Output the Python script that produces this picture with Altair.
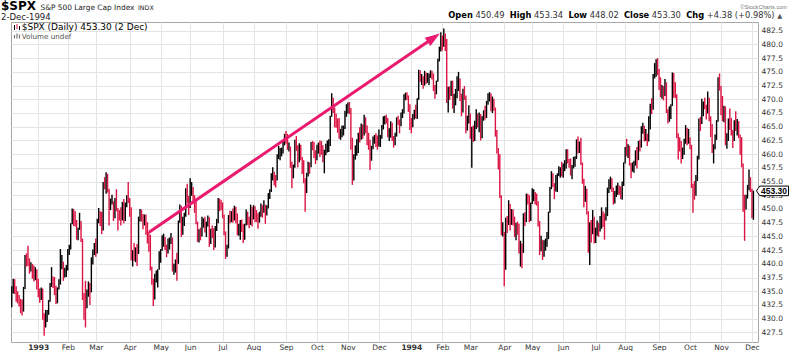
import math
import altair as alt
import pandas as pd

# ---------------- data ----------------
MONTHS = ["1992-12", "1993-01", "1993-02", "1993-03", "1993-04", "1993-05", "1993-06",
          "1993-07", "1993-08", "1993-09", "1993-10", "1993-11", "1993-12",
          "1994-01", "1994-02", "1994-03", "1994-04", "1994-05", "1994-06",
          "1994-07", "1994-08", "1994-09", "1994-10", "1994-11", "1994-12"]

CLOSE = [
    "435.3 437.0 435.6 434.6 433.7 432.8 432.6 431.5 435.4 441.3 440.7 440.3 439.0 439.8 438.0 437.5 438.8 435.7",
    "435.4 434.3 434.5 430.7 429.1 430.9 431.0 433.0 435.9 437.2 436.8 435.1 433.4 435.5 436.1 440.0 440.0 438.1 438.7 438.8",
    "442.5 442.6 447.2 449.6 448.9 447.9 445.3 446.2 447.7 444.6 433.9 433.3 431.9 434.2 435.2 434.8 440.9 442.3 443.4",
    "442.0 447.9 449.3 447.3 446.1 454.7 454.4 456.3 453.7 449.8 451.4 451.4 448.3 451.9 450.2 448.9 448.8 448.1 450.9 447.8 450.8 452.0 451.7",
    "450.3 441.4 442.3 441.2 442.7 441.8 448.4 449.2 448.7 448.4 448.9 447.5 445.1 443.6 439.5 437.0 433.5 438.0 438.0 438.9 440.2",
    "442.5 444.1 444.5 443.3 442.3 442.8 444.4 444.8 439.2 439.6 440.4 440.3 447.6 450.6 445.8 448.0 448.9 453.4 452.4 450.2",
    "453.8 453.9 452.5 450.1 447.7 444.7 445.8 445.4 447.3 447.7 446.3 447.4 448.5 443.7 446.2 445.9 443.2 446.6 447.6 451.9 450.7 450.5",
    "449.0 445.8 441.4 442.8 448.6 448.1 449.0 448.1 450.1 449.2 445.8 446.0 447.3 447.2 444.5 447.1 449.1 448.2 447.2 450.2 448.1",
    "450.2 449.3 448.5 448.1 448.7 450.7 449.5 450.5 449.0 450.1 452.4 453.1 456.0 456.4 456.2 455.2 459.8 460.1 460.5 460.5 461.9 463.6",
    "463.2 461.3 461.3 458.5 456.0 457.5 461.7 461.5 459.9 461.6 459.4 458.8 455.1 453.0 456.2 457.7 457.6 461.8 461.5 460.1 458.9",
    "461.3 461.3 461.2 460.7 459.2 460.3 460.9 461.1 461.5 466.8 469.5 468.5 466.2 466.1 465.4 463.3 464.2 464.3 464.6 467.7 467.8",
    "469.1 468.4 463.0 457.5 459.6 460.2 460.3 463.7 462.6 465.4 463.8 466.7 464.8 463.6 462.6 459.1 461.0 462.4 463.1 461.9 461.8",
    "461.9 463.1 464.9 466.4 466.8 466.3 463.9 463.9 465.7 463.1 461.8 463.3 466.4 465.9 465.3 467.3 467.4 470.6 470.9 470.6 468.6 466.5",
    "465.4 466.9 467.6 467.1 469.9 475.3 474.1 474.2 472.5 474.9 473.3 474.3 474.3 475.0 474.7 472.0 470.9 473.2 477.1 478.7 481.6",
    "479.6 482.0 480.7 469.8 471.8 471.1 472.8 468.9 470.2 470.2 472.5 472.8 470.3 467.7 471.5 470.7 464.3 466.1 467.1",
    "464.4 464.8 463.0 464.7 466.9 465.9 467.1 463.9 466.4 467.4 467.0 469.4 470.9 471.1 468.5 468.8 468.5 464.4 460.6 460.0 452.5 445.6 445.8",
    "438.9 448.3 447.1 450.9 447.1 449.9 447.6 446.3 446.4 446.2 442.5 442.5 442.0 448.7 447.6 452.7 451.9 449.1 450.9",
    "453.0 453.0 451.7 451.4 447.8 442.3 444.1 441.5 443.8 444.1 444.5 449.4 453.7 456.5 454.7 453.2 454.8 456.3 457.3 457.3 456.5",
    "457.6 457.7 460.1 458.9 458.2 457.1 457.9 458.7 459.1 462.4 460.6 461.9 458.5 455.5 451.3 453.1 449.6 442.8 447.3 446.1 447.6 444.3",
    "446.2 446.4 446.1 448.4 449.6 448.1 448.0 448.7 453.4 454.2 455.2 453.9 451.6 452.6 453.1 454.3 453.4 452.6 454.2 458.3",
    "461.0 460.6 461.5 458.4 457.1 457.9 457.9 460.3 458.9 461.9 461.2 465.0 465.2 463.2 463.7 462.3 464.5 469.0 468.1 473.8 474.6 476.1 475.5",
    "473.2 471.0 471.9 471.0 473.1 468.2 466.2 467.5 468.8 474.8 471.2 470.9 463.4 461.5 461.3 459.7 460.8 462.1 464.8 462.2 462.7",
    "461.7 454.6 453.5 452.4 455.1 459.0 465.8 465.5 467.8 469.1 469.0 467.7 470.3 466.9 464.9 460.8 461.5 462.6 465.9 473.8 472.4",
    "468.4 466.5 467.9 462.3 463.1 465.7 465.4 464.4 462.4 466.0 465.0 465.6 463.6 461.5 458.3 450.1 449.9 452.3 454.2 455.2 453.7",
    "448.9 453.3",
]
HIGH = [
    "435.9 437.3 437.2 435.9 435.0 434.3 433.6 433.5 435.8 441.6 441.9 443.3 441.0 440.3 440.0 439.7 439.4 439.0",
    "437.3 435.5 435.7 435.5 431.0 431.6 431.6 433.4 436.5 439.4 437.7 437.6 436.0 435.7 437.2 442.7 441.6 440.4 439.3 439.8",
    "442.7 443.5 447.4 450.1 450.0 449.6 448.0 446.6 449.3 447.8 444.6 434.7 436.9 435.3 436.8 436.5 441.2 442.6 443.8",
    "444.6 448.2 450.2 449.6 449.5 454.9 455.8 456.7 456.4 453.7 451.9 452.6 451.4 452.0 453.6 450.2 449.8 450.3 451.3 451.8 451.2 452.5 454.9",
    "452.0 450.3 442.5 443.8 443.0 443.6 448.6 450.0 449.9 449.1 449.0 449.0 447.6 445.8 445.3 439.5 437.3 438.2 438.8 439.0 442.3",
    "442.7 445.2 445.5 444.9 443.5 444.6 444.8 445.6 444.8 440.0 440.8 442.0 447.9 450.8 450.6 448.6 449.3 453.8 454.6 452.4",
    "455.6 454.9 454.0 452.5 451.5 447.7 446.3 446.6 448.6 448.3 448.6 447.7 448.8 448.5 446.4 447.0 446.5 446.9 448.2 452.0 451.9 451.6",
    "451.2 449.0 445.9 443.5 448.9 449.7 449.6 450.1 450.6 450.4 449.2 447.3 448.0 448.1 447.2 447.3 449.9 449.5 448.6 450.8 450.4",
    "450.7 450.5 449.8 449.2 449.5 451.0 450.7 451.6 450.8 450.7 452.9 453.6 456.5 457.6 456.8 456.2 460.0 461.5 461.1 461.2 462.3 463.7",
    "464.2 463.7 462.1 461.4 458.6 458.1 462.6 463.3 461.6 462.0 461.7 459.5 458.9 455.6 456.6 458.6 458.5 462.2 462.4 462.2 460.7",
    "461.7 462.1 462.5 462.4 461.6 460.8 461.9 462.5 462.7 467.0 471.1 470.3 468.5 467.4 466.5 466.6 464.6 465.2 465.2 467.9 469.1",
    "469.4 469.5 468.4 463.0 460.0 461.6 462.7 463.9 464.9 465.6 465.4 467.2 466.7 465.2 463.9 462.6 461.5 463.2 463.5 463.8 463.4",
    "464.5 463.5 465.3 466.9 467.0 467.2 466.6 464.7 466.0 465.7 463.3 463.9 466.7 467.0 466.3 467.6 468.2 470.9 471.2 471.3 470.7 469.1",
    "466.6 467.3 468.1 469.0 470.2 475.4 475.3 474.6 474.2 475.2 474.9 474.8 474.7 475.3 475.2 474.7 472.6 473.4 477.4 479.6 482.2",
    "481.6 482.9 482.0 481.0 472.3 472.4 473.4 473.4 471.0 471.9 474.2 475.0 473.8 471.0 471.9 472.4 470.7 467.0 468.9",
    "467.4 465.0 465.2 466.1 468.2 467.4 467.6 467.3 466.9 468.0 468.8 469.7 471.1 471.3 471.1 470.5 470.1 468.5 464.4 461.1 460.0 452.5 447.6",
    "445.8 448.4 448.7 451.6 450.9 450.0 449.9 448.6 447.5 447.7 447.3 444.2 443.7 449.2 449.4 452.8 452.8 452.5 451.2",
    "453.8 453.6 453.1 452.8 451.4 447.8 445.1 444.4 444.3 444.6 445.8 449.5 454.0 456.9 456.5 454.7 456.2 456.5 457.8 457.6 458.6",
    "458.3 458.9 460.9 460.9 459.1 459.2 458.0 459.5 459.6 462.7 463.2 462.3 463.0 458.5 455.5 454.2 453.7 449.6 447.6 448.0 449.8 448.6",
    "446.6 447.9 447.5 448.7 450.3 449.6 449.2 450.3 453.9 455.4 455.9 455.6 453.9 453.3 454.3 454.8 454.3 454.1 455.0 458.5",
    "461.3 462.8 461.8 461.5 458.4 458.5 458.8 460.7 461.3 462.4 462.6 465.1 465.7 465.2 464.6 463.7 466.9 469.2 470.2 474.6 476.6 477.3 477.5",
    "475.5 474.0 472.6 472.4 473.7 473.1 468.2 468.7 469.1 474.9 474.8 473.1 470.9 463.8 463.1 462.4 461.2 462.8 465.3 464.8 464.6",
    "463.1 461.7 454.6 455.1 456.2 459.7 466.5 466.8 470.1 469.6 470.3 469.0 471.4 470.3 466.9 465.5 461.8 463.6 466.2 474.0 474.7",
    "472.4 470.6 468.8 468.7 463.8 466.5 468.3 466.6 464.4 466.2 467.8 466.4 466.0 463.6 463.1 458.3 452.6 452.6 454.4 457.2 455.8",
    "453.7 453.34",
]
LOW = [
    "432.1 434.6 434.5 433.1 432.8 432.2 431.0 430.6 431.3 435.4 439.5 439.6 438.2 438.6 437.3 436.8 437.0 435.3",
    "433.9 432.9 433.4 429.8 426.9 428.4 429.4 430.7 433.1 435.8 435.6 434.3 432.7 432.8 435.3 436.2 439.0 436.9 437.5 437.6",
    "438.8 441.6 442.6 447.2 446.9 446.8 444.4 444.3 446.2 444.0 433.4 429.8 428.4 431.9 434.0 432.5 434.8 439.9 441.6",
    "441.3 441.9 447.4 446.9 445.4 446.1 453.6 452.8 453.0 447.0 449.8 450.8 447.8 448.3 449.6 446.1 447.9 447.0 447.9 447.4 447.8 450.3 451.1",
    "448.6 440.6 439.5 440.5 440.3 439.6 441.8 447.7 447.7 446.3 447.0 445.3 443.7 442.2 438.8 436.2 432.3 433.5 436.6 435.7 438.9",
    "440.2 442.4 443.1 442.5 441.2 441.9 442.6 443.6 438.6 438.0 438.4 436.9 440.0 447.5 444.9 445.3 446.9 448.6 451.0 448.9",
    "450.2 452.4 451.2 449.3 447.2 444.0 443.9 444.3 445.0 446.6 445.7 444.9 446.8 443.1 443.6 444.7 442.5 443.0 446.0 447.4 449.6 449.8",
    "448.3 445.2 440.9 441.3 442.8 447.4 447.6 447.5 447.9 447.4 445.2 445.1 444.4 445.8 443.8 444.4 447.0 447.1 446.5 447.1 446.8",
    "448.1 447.6 447.6 446.4 447.5 448.6 448.4 449.3 447.3 448.8 450.1 451.8 453.1 455.2 454.3 453.9 455.2 459.1 458.9 459.6 460.1 461.6",
    "461.9 460.8 460.5 457.5 453.8 455.6 457.5 460.6 457.6 458.5 458.9 456.4 454.7 449.5 452.9 455.9 456.4 457.6 460.7 459.3 458.2",
    "458.9 460.1 459.5 459.9 458.5 456.5 459.8 460.3 460.4 461.5 466.8 467.5 464.9 464.8 463.9 462.8 462.6 463.1 463.4 464.6 466.8",
    "467.4 467.3 460.8 454.4 455.2 459.0 459.7 460.2 462.1 462.6 462.8 463.4 463.8 461.6 460.8 457.1 458.8 460.9 461.9 461.3 460.8",
    "461.4 461.3 462.8 464.5 465.4 465.6 463.1 462.4 463.0 462.4 461.2 461.6 463.2 465.3 463.8 465.1 466.6 467.4 469.8 469.9 467.7 464.4",
    "463.8 464.9 466.3 466.5 466.4 469.9 473.2 472.6 471.9 472.5 472.8 473.0 472.6 473.9 473.6 471.5 470.1 470.9 473.2 476.9 478.7",
    "478.9 479.6 478.8 469.3 467.6 469.9 470.6 468.3 467.5 468.9 470.2 471.5 469.7 466.9 467.6 469.9 463.8 464.3 465.6",
    "462.8 457.5 462.2 462.4 464.6 464.9 464.0 462.5 462.9 466.1 466.3 466.6 469.0 469.6 467.8 467.5 467.9 463.2 460.1 457.2 452.0 445.2 445.0",
    "435.9 438.9 445.6 447.1 446.1 447.1 447.0 444.9 444.3 445.3 441.9 439.5 439.2 442.0 446.9 447.6 450.8 447.6 447.8",
    "450.9 451.4 450.8 450.6 446.8 441.6 442.3 440.7 441.3 442.4 443.1 444.5 449.3 453.6 454.0 451.8 453.2 453.1 456.0 455.7 455.9",
    "455.7 456.9 457.4 458.3 457.5 456.1 455.4 457.4 457.7 459.1 460.1 460.2 458.0 454.6 450.3 451.3 449.0 442.0 439.8 443.9 445.4 443.7",
    "443.8 445.1 444.9 445.9 446.4 446.7 444.4 447.9 448.7 452.9 453.6 453.1 450.8 451.0 452.2 452.6 452.6 451.8 451.7 454.2",
    "458.3 459.6 459.3 457.9 455.6 456.8 456.6 457.9 457.4 458.9 460.5 461.2 463.7 462.3 462.4 461.5 462.3 464.5 467.3 468.1 473.8 474.1 474.4",
    "471.7 470.4 470.1 469.8 470.6 467.5 465.6 465.9 466.4 468.8 470.3 470.2 462.9 459.0 460.5 458.3 459.1 459.9 461.9 461.6 461.9",
    "460.9 453.8 449.3 451.7 452.4 455.1 459.0 464.2 465.5 466.9 468.2 466.3 467.4 466.0 463.1 460.2 458.3 460.9 462.6 465.9 471.6",
    "467.1 466.0 465.8 461.6 461.0 462.4 464.4 463.4 461.1 462.4 464.2 463.4 462.9 459.9 457.6 449.5 444.2 449.9 451.9 453.4 453.1",
    "448.3 448.02",
]
PREV_CLOSE = 432.1          # close before the first bar shown
BARS_BEFORE_1993 = 18       # December 1992 bars left of the first gridline

X_LABELS = ["1993", "Feb", "Mar", "Apr", "May", "Jun", "Jul", "Aug", "Sep", "Oct", "Nov", "Dec",
            "1994", "Feb", "Mar", "Apr", "May", "Jun", "Jul", "Aug", "Sep", "Oct", "Nov", "Dec"]
Y_TICKS = [427.5, 430.0, 432.5, 435.0, 437.5, 440.0, 442.5, 445.0, 447.5, 450.0, 452.5,
           455.0, 457.5, 460.0, 462.5, 465.0, 467.5, 470.0, 472.5, 475.0, 477.5, 480.0, 482.5]

ARROW_START = (75.1, 445.75)   # (bar index, price)
ARROW_TIP = (272.4, 482.0)
LAST_PRICE = 453.30
HEADER_PAIRS = [("Open", "450.49"), ("High", "453.34"), ("Low", "448.02"),
                ("Close", "453.30"), ("Chg", "+4.38 (+0.98%)")]

# ---------------- layout ----------------
W, H = 747, 320
PAD_L, PAD_T = 11, 22
X_DOM = [-18.5, 488.1]
Y_DOM = [425.75, 484.09]
RED = "#dc1443"
PINK = "#ea1a6f"
FONT = "DejaVu Sans"

# ---------------- table ----------------
rows = []
starts = []
i = -BARS_BEFORE_1993
prev = PREV_CLOSE
for m, cs, hs, ls in zip(MONTHS, CLOSE, HIGH, LOW):
    c = [float(v) for v in cs.split()]
    h = [float(v) for v in hs.split()]
    l = [float(v) for v in ls.split()]
    starts.append(i)
    for cc, hh, ll in zip(c, h, l):
        rows.append({"idx": i, "close": cc, "high": hh, "low": ll,
                     "dir": "up" if cc >= prev else "down"})
        prev = cc
        i += 1
df = pd.DataFrame(rows)
tick_vals = starts[1:]

label_expr = "[" + ",".join("'%s'" % s for s in X_LABELS) + "][indexof([" + \
    ",".join(str(v) for v in tick_vals) + "], datum.value)]"
year_test = " || ".join("datum.value == %d" % v for v, s in zip(tick_vals, X_LABELS) if s.isdigit())

xscale = alt.Scale(domain=X_DOM, nice=False, zero=False)
yscale = alt.Scale(domain=Y_DOM, nice=False, zero=False)

x_axis = alt.Axis(values=tick_vals, tickCount=200, labelExpr=label_expr, grid=True, gridColor="#e4e4e4",
                  ticks=False, tickSize=0, domain=False, labelPadding=1, labelFont=FONT,
                  labelFontSize=7.5, labelColor="#333333", labelFlush=False, labelOverlap=False,
                  labelFontWeight={"condition": {"test": year_test, "value": "bold"}, "value": "normal"},
                  title=None)
y_axis = alt.Axis(orient="right", values=Y_TICKS, tickCount=200, format=".1f", grid=True,
                  gridColor="#e4e4e4", ticks=False, tickSize=0, domain=False, labelPadding=3,
                  labelFont=FONT, labelFontSize=7.5, labelColor="#333333", labelFlush=False,
                  labelOverlap=False, title=None)

bars = alt.Chart(df).mark_rule(strokeWidth=1.4, clip=True).encode(
    x=alt.X("idx:Q", scale=xscale, axis=x_axis),
    y=alt.Y("low:Q", scale=yscale, axis=y_axis),
    y2="high:Q",
    color=alt.Color("dir:N", scale=alt.Scale(domain=["up", "down"], range=["#000000", RED]), legend=None),
)

# arrow annotation
pxi = W / (X_DOM[1] - X_DOM[0])
pxp = H / (Y_DOM[1] - Y_DOM[0])
dx = (ARROW_TIP[0] - ARROW_START[0]) * pxi
dy = -(ARROW_TIP[1] - ARROW_START[1]) * pxp
ln = math.hypot(dx, dy)
ux, uy = dx / ln, dy / ln
angle = math.degrees(math.atan2(dy, dx)) % 360
end_i = ARROW_TIP[0] - 9 * ux / pxi
end_p = ARROW_TIP[1] + 9 * uy / pxp
arrow_df = pd.DataFrame({"idx": [ARROW_START[0], end_i], "low": [ARROW_START[1], end_p]})
arrow_line = alt.Chart(arrow_df).mark_line(color=PINK, strokeWidth=3, strokeCap="butt").encode(
    x=alt.X("idx:Q", title=None), y=alt.Y("low:Q", title=None))
head_df = pd.DataFrame({"idx": [ARROW_TIP[0]], "low": [ARROW_TIP[1]]})
arrow_head = alt.Chart(head_df).mark_point(
    shape="M0,0 L-1.5,-0.5 L-1.5,0.5 Z", size=400, filled=True, color=PINK, opacity=1,
    angle=angle, strokeWidth=0).encode(x=alt.X("idx:Q", title=None), y=alt.Y("low:Q", title=None))

# last price box on the right axis (it partly covers the 452.5 label, as in the original)
one = pd.DataFrame({"a": [0]})
box = alt.Chart(one).mark_point(
    shape="M-1,0 L-0.8,-0.3 L1,-0.3 L1,0.3 L-0.8,0.3 Z", size=1024, filled=True,
    fill="white", stroke="black", strokeWidth=1, opacity=1).encode(
    x=alt.value(772.5 - PAD_L), y=alt.Y(datum=LAST_PRICE))
box_txt = alt.Chart(one).mark_text(
    text="%.2f" % LAST_PRICE, font="Liberation Sans", fontWeight="bold", fontSize=8.5,
    align="center", baseline="middle", color="black").encode(
    x=alt.value(774 - PAD_L), y=alt.Y(datum=LAST_PRICE))


def txt(s, x, y, size, weight="normal", color="#000000", align="left", font=FONT):
    return alt.Chart(one).mark_text(text=s, x=x - PAD_L, y=y - PAD_T, fontSize=size,
                                    fontWeight=weight, color=color, align=align,
                                    baseline="alphabetic", font=font)


texts = [
    txt("$SPX", 1, 10, 12, "bold"),
    txt("S&P 500 Large Cap Index", 40.5, 9.5, 7.4, color="#222222"),
    txt("INDX", 138, 9.5, 6.3, color="#222222"),
    txt("2-Dec-1994", 1, 19.5, 8.5, color="#222222"),
    txt("$SPX (Daily) 453.30 (2 Dec)", 21.7, 30.3, 9),
    txt("Volume undef", 21.7, 38.8, 7.2, color="#555555"),
    txt("\u00a9StockCharts.com", 787, 8.5, 5.6, color="#777777", align="right", font="Liberation Sans"),
]

# header OHLC line laid out from approximate glyph widths
BOLD_W = {"O": .850, "p": .716, "e": .678, "n": .712, "H": .837, "i": .343, "g": .716, "h": .712,
          "L": .637, "o": .687, "w": .924, "C": .734, "l": .343, "s": .595}
REG_W = {".": .318, " ": .318, "+": .838, "(": .390, ")": .390, "%": .950}
HS = 8.3
cx = 448.3
for lab, val in HEADER_PAIRS:
    texts.append(txt(lab, cx, 18.3, HS, "bold"))
    cx += sum(BOLD_W.get(ch, .7) for ch in lab) * HS + .318 * HS
    texts.append(txt(val, cx, 18.3, HS, color="#333333"))
    cx += sum(REG_W.get(ch, .636) for ch in val) * HS + .636 * HS
texts.append(txt("\u25b2", cx - .318 * HS, 18.3, 6.5, color="#555555"))

# small legend icons
icons = [
    alt.Chart(one).mark_rule(color="#000000", strokeWidth=1).encode(
        x=alt.value(14.5 - PAD_L), y=alt.value(25 - PAD_T), y2=alt.value(30 - PAD_T)),
    alt.Chart(one).mark_rule(color=RED, strokeWidth=1).encode(
        x=alt.value(17 - PAD_L), y=alt.value(24 - PAD_T), y2=alt.value(29 - PAD_T)),
    alt.Chart(one).mark_rule(color="#000000", strokeWidth=1).encode(
        x=alt.value(19.5 - PAD_L), y=alt.value(26 - PAD_T), y2=alt.value(30 - PAD_T)),
    alt.Chart(one).mark_rule(color="#777777", strokeWidth=1.2).encode(
        x=alt.value(14.5 - PAD_L), y=alt.value(35 - PAD_T), y2=alt.value(38.5 - PAD_T)),
    alt.Chart(one).mark_rule(color="#777777", strokeWidth=1.2).encode(
        x=alt.value(17 - PAD_L), y=alt.value(33.5 - PAD_T), y2=alt.value(38.5 - PAD_T)),
    alt.Chart(one).mark_rule(color="#777777", strokeWidth=1.2).encode(
        x=alt.value(19.5 - PAD_L), y=alt.value(34.5 - PAD_T), y2=alt.value(38.5 - PAD_T)),
]

chart = alt.layer(bars, arrow_line, arrow_head, box, box_txt, *icons, *texts).properties(
    width=W, height=H, autosize="none",
    padding={"left": PAD_L, "top": PAD_T, "right": 800 - PAD_L - W, "bottom": 351 - PAD_T - H},
    background="white",
).configure_view(stroke="#a8a8a8", strokeWidth=1)

chart.save("out.html", embed_options={"renderer": "svg", "actions": False})
